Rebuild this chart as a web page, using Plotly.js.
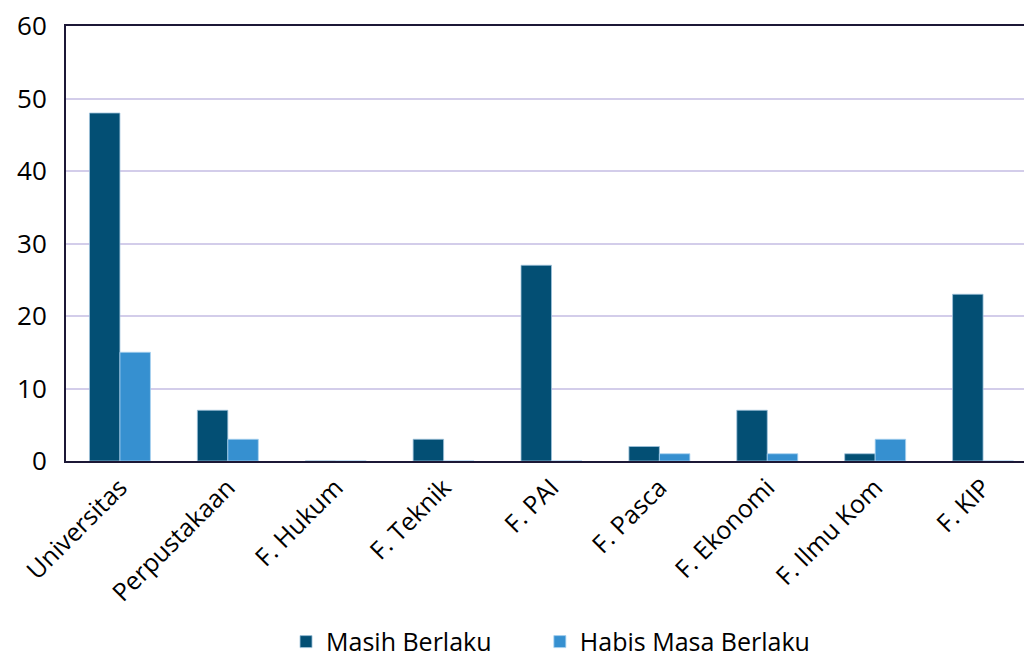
<!DOCTYPE html>
<html>
<head>
<meta charset="utf-8">
<script src="https://cdn.plot.ly/plotly-3.0.1.min.js"></script>
<style>
html,body{margin:0;padding:0;background:#fff;overflow:hidden;width:1024px;height:659px;}
#chart{width:1040px;height:659px;}
</style>
</head>
<body>
<div id="chart"></div>
<script>
const categories = ["Universitas","Perpustakaan","F. Hukum","F. Teknik","F. PAI","F. Pasca","F. Ekonomi","F. Ilmu Kom","F. KIP"];
const masihBerlaku = [48, 7, 0, 3, 27, 2, 7, 1, 23];
const habisMasaBerlaku = [15, 3, 0, 0, 0, 1, 1, 3, 0];
const seriesNames = ["Masih Berlaku", "Habis Masa Berlaku"];
const yTicks = [0, 10, 20, 30, 40, 50, 60];

const font = "'Open Sans', 'Noto Sans', sans-serif";
const traces = [
  {type:'bar', name:seriesNames[0], x:categories, y:masihBerlaku, legend:'legend',
   marker:{color:'#034f74', line:{color:'#9fc3dc', width:0.8}}},
  {type:'bar', name:seriesNames[1], x:categories, y:habisMasaBerlaku, legend:'legend2',
   marker:{color:'#3690d0', line:{color:'#a8d2f0', width:0.8}}}
];
const legendBase = {orientation:'h', xanchor:'left', yref:'container', y:0.026, yanchor:'middle',
          font:{family:font, size:25, color:'#000'}, itemwidth:30, bgcolor:'rgba(0,0,0,0)'};
const layout = {
  width:1040, height:659,
  margin:{l:66, r:3, t:26, b:198, autoexpand:false},
  paper_bgcolor:'#fff', plot_bgcolor:'#fff',
  barmode:'group', bargap:0.435, bargroupgap:0,
  font:{family:font, size:25, color:'#000'},
  showlegend:true,
  legend:Object.assign({}, legendBase, {x:0.2266}),
  legend2:Object.assign({}, legendBase, {x:0.488}),
  xaxis:{type:'category', tickangle:-45, showline:true, linecolor:'#1c1836', linewidth:2,
         mirror:true, showgrid:false, ticks:'', automargin:false, tickfont:{family:font, size:25}},
  yaxis:{range:[0,60], tickvals:yTicks, ticktext:yTicks.map(String), showline:true,
         linecolor:'#1c1836', linewidth:2, gridcolor:'#d3cdea', gridwidth:2, automargin:false,
         zeroline:false, ticks:'', ticklabelstandoff:12, tickfont:{family:font, size:26}}
};
Plotly.newPlot('chart', traces, layout, {displayModeBar:false, staticPlot:true});
</script>
</body>
</html>
